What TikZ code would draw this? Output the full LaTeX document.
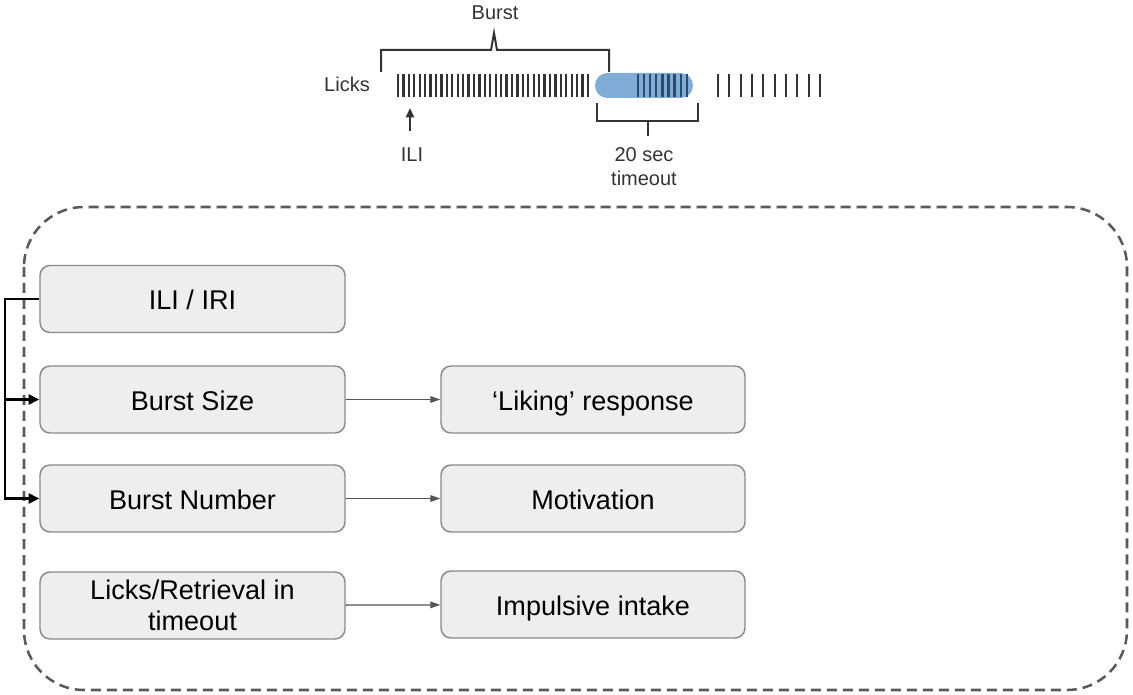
\documentclass[tikz,border=0pt]{standalone}
\usepackage{fontspec}
\setmainfont{Liberation Sans}
\usetikzlibrary{arrows.meta}
\definecolor{boxfill}{HTML}{EEEEEE}
\definecolor{boxline}{HTML}{8A8A8A}
\definecolor{dashc}{HTML}{5A5A5A}
\definecolor{arrc}{HTML}{555555}
\definecolor{tick}{HTML}{333333}
\definecolor{pill}{RGB}{128,172,216}
\definecolor{tickblue}{HTML}{2C4C6C}
\tikzset{
  card/.style={draw=boxline, fill=boxfill, line width=1.1pt, rounded corners=7.5pt,
    minimum height=50.25pt, inner sep=2pt, align=center,
    font=\fontsize{20.3}{23.25}\selectfont, text=black},
  onel/.style={text height=19.8pt, text depth=4pt},
  lcard/.style={card, minimum width=228.75pt},
  rcard/.style={card, minimum width=228pt},
  link/.style={draw=arrc, line width=0.95pt, -{Triangle[length=7.5pt,width=5pt]}},
  bus/.style={draw=black, line width=1.9pt},
  small/.style={font=\fontsize{15}{17}\selectfont, text=tick, inner sep=0pt},
  tickln/.style={draw=tick, line width=1.7pt},
  brk/.style={draw=tick, line width=1.5pt},
}
\begin{document}
\begin{tikzpicture}[x=0.75pt, y=-0.75pt]
\useasboundingbox (0,0) rectangle (1133,695);

% top lick diagram
\node[small] (burstlbl) at (495,13) {Burst};
\node[small] (lickslbl) at (347,84) {Licks};
\node[small] (ililbl) at (412,155) {ILI};
\node[small] (tolbl1) at (644,155) {20 sec};
\node[small] (tolbl2) at (644,178) {timeout};

\foreach \i in {0,...,35} \draw[tickln] (398+\i*5.43,74) -- ++(0,23);
\fill[pill, rounded corners=9.3pt] (595,73) rectangle (693,98);
\foreach \i in {0,...,8} \draw[tickln, draw=tickblue] (638+\i*6.1,74) -- ++(0,23);
\foreach \i in {0,...,9} \draw[tickln] (718+\i*11.33,74) -- ++(0,23);

\draw[brk] (381,72) -- (381,50) -- (491,50) -- (494,33) -- (497,50) -- (609,50) -- (609,72);
\draw[brk] (597,103) -- (597,121) -- (698,121) -- (698,103);
\draw[brk] (648,121) -- (648,136);
\coordinate (iliarr) at (410,131);
\draw[draw=tick, line width=1.5pt, -{Triangle[length=7pt,width=6pt]}] (iliarr) -- ++(0,-23);

% dashed frame
\draw[dashc, line width=1.9pt, dash pattern=on 7.5pt off 4.5pt, rounded corners=45pt]
  (24,207) rectangle (1127,690);

% cards
\node[lcard, onel] (ili) at (192.5,299) {ILI / IRI};
\node[lcard, onel] (bsize) at (192.5,399.5) {Burst Size};
\node[lcard, onel] (bnum) at (192.5,498.5) {Burst Number};
\node[lcard] (lret) at (192.5,605.5) {Licks/Retrieval in\\timeout};
\node[rcard, onel] (liking) at (593,399.5) {‘Liking’ response};
\node[rcard, onel] (motiv) at (593,498.5) {Motivation};
\node[rcard, onel] (impul) at (593,604.5) {Impulsive intake};

\draw[link] (bsize) -- (liking);
\draw[link] (bnum) -- (motiv);
\draw[link] (lret) -- (impul);

\coordinate (busx) at (5,299);
\draw[bus, -{Triangle[length=8pt,width=7.5pt]}] (ili.west) -- (busx) |- (bnum.west);
\draw[bus, -{Triangle[length=8pt,width=7.5pt]}] (busx |- bsize.west) -- (bsize.west);
\end{tikzpicture}
\end{document}
